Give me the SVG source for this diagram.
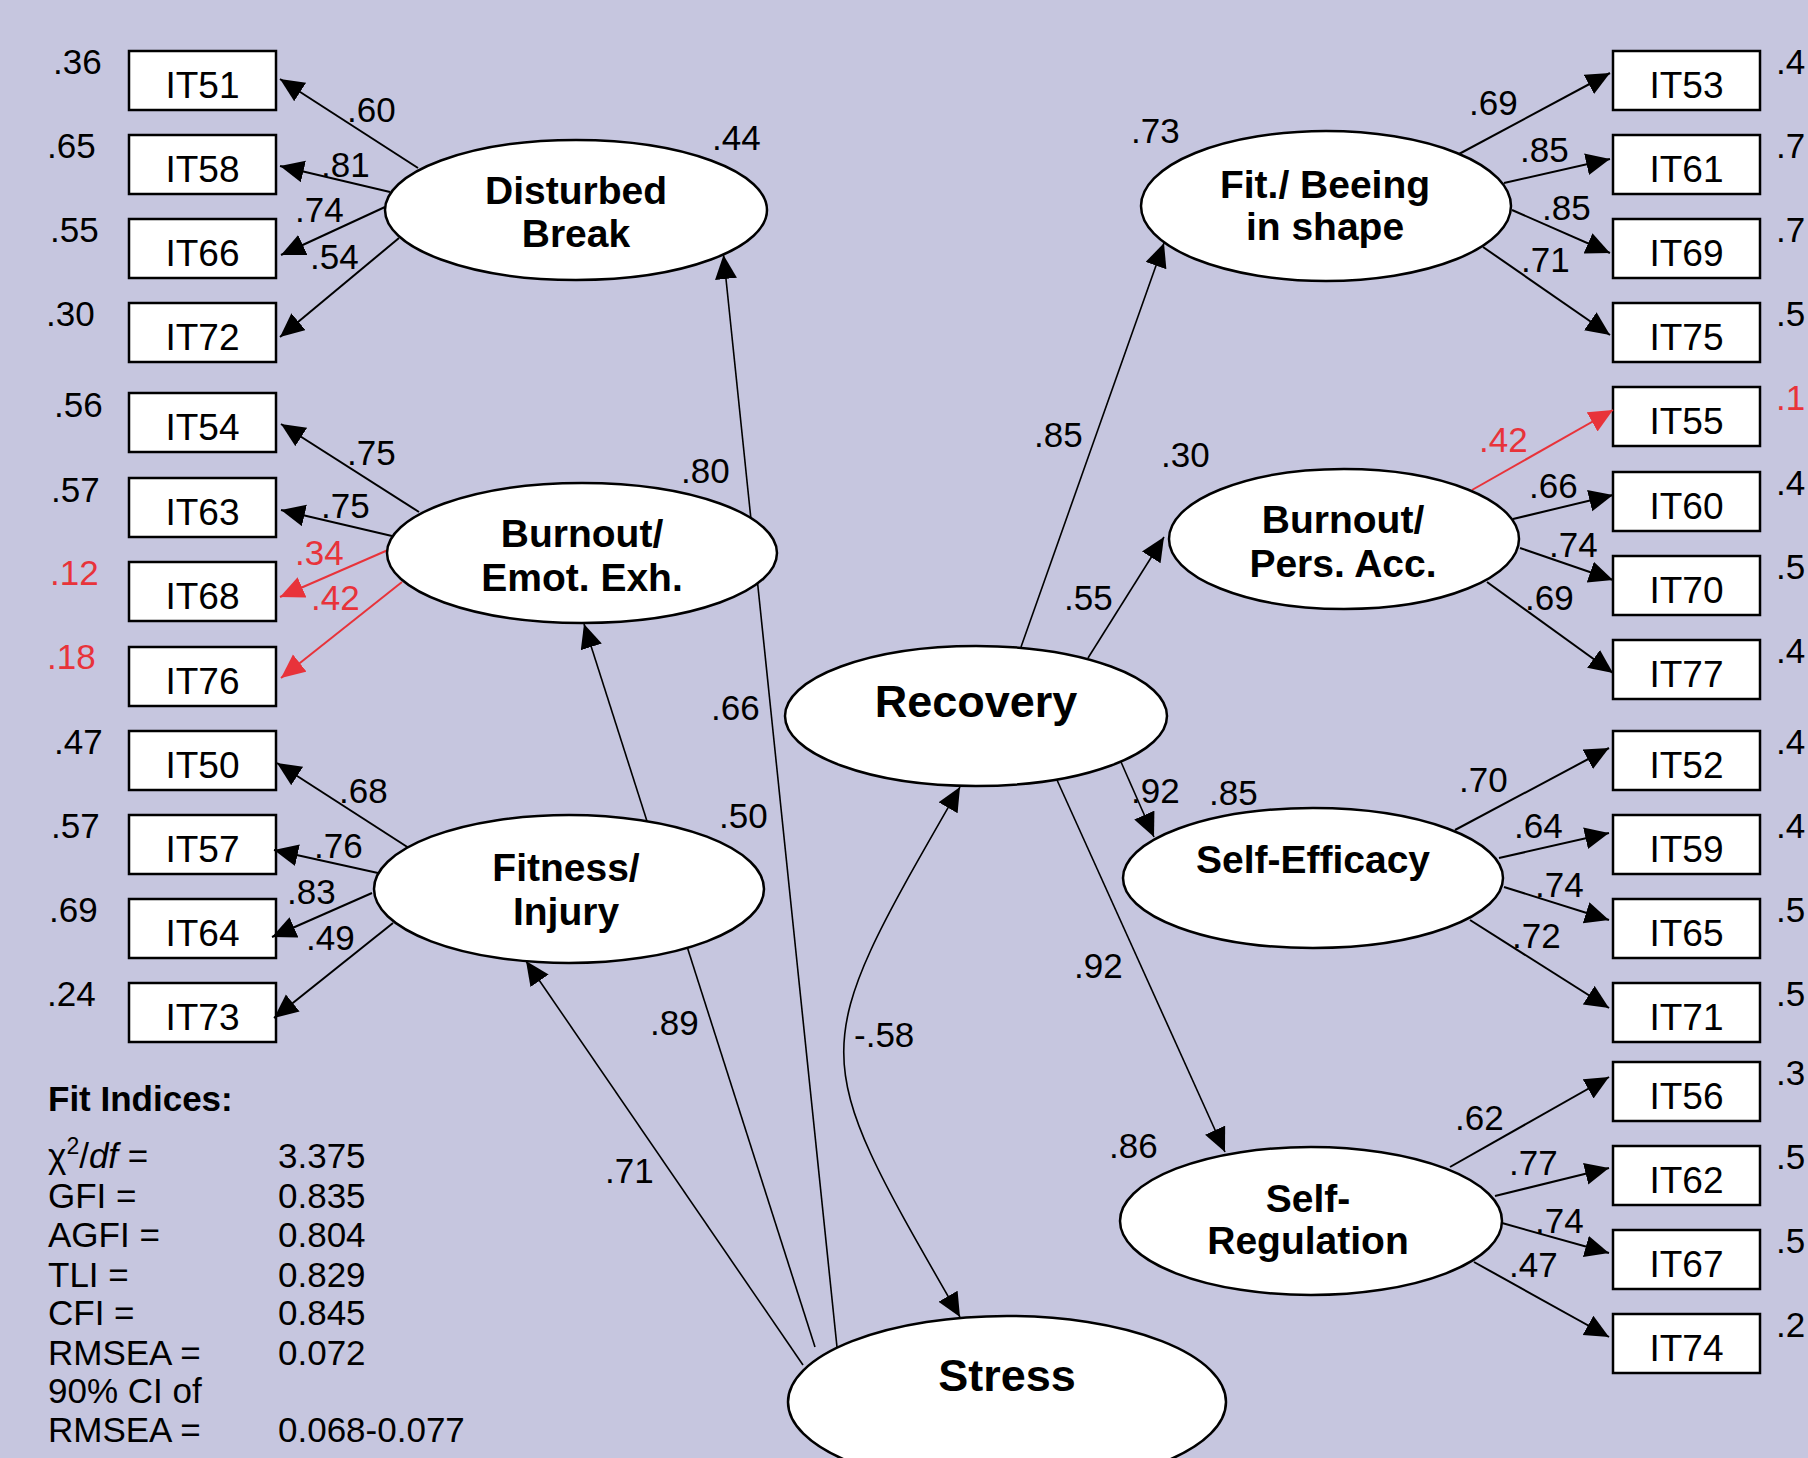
<svg xmlns="http://www.w3.org/2000/svg" width="1808" height="1458" viewBox="0 0 1808 1458">
<style>
text{font-family:"Liberation Sans",Arial,sans-serif;fill:#000}
.box{fill:#fff;stroke:#000;stroke-width:2.5}
.ell{fill:#fff;stroke:#000;stroke-width:2.5}
.bl{font-size:37px;text-anchor:middle}
.num{font-size:35px}
.red{fill:#E8333A}
.t{font-size:39px;font-weight:bold;text-anchor:middle}
.tb{font-size:45px;font-weight:bold;text-anchor:middle}
.ld{stroke:#000;stroke-width:2;fill:none;marker-end:url(#ah)}
.ldr{stroke:#E8333A;stroke-width:2;fill:none;marker-end:url(#ahr)}
.st{stroke:#000;stroke-width:1.6;fill:none;marker-end:url(#ah)}
.fi{font-size:35px}
</style>
<defs>
<marker id="ah" markerUnits="userSpaceOnUse" markerWidth="26" markerHeight="24" refX="24" refY="11" orient="auto-start-reverse"><path d="M0,0 L24,11 L0,22 z" fill="#000"/></marker>
<marker id="ahr" markerUnits="userSpaceOnUse" markerWidth="26" markerHeight="24" refX="24" refY="11" orient="auto"><path d="M0,0 L24,11 L0,22 z" fill="#E8333A"/></marker>
</defs>
<rect x="0" y="0" width="1808" height="1458" fill="#C6C6DF"/>

<!-- indicator boxes -->
<g id="IT51"><rect class="box" x="129" y="51" width="147" height="59"/><text class="bl" x="202.5" y="98">IT51</text></g>
<g id="IT58"><rect class="box" x="129" y="135" width="147" height="59"/><text class="bl" x="202.5" y="182">IT58</text></g>
<g id="IT66"><rect class="box" x="129" y="219" width="147" height="59"/><text class="bl" x="202.5" y="266">IT66</text></g>
<g id="IT72"><rect class="box" x="129" y="303" width="147" height="59"/><text class="bl" x="202.5" y="350">IT72</text></g>
<g id="IT54"><rect class="box" x="129" y="393" width="147" height="59"/><text class="bl" x="202.5" y="440">IT54</text></g>
<g id="IT63"><rect class="box" x="129" y="478" width="147" height="59"/><text class="bl" x="202.5" y="525">IT63</text></g>
<g id="IT68"><rect class="box" x="129" y="562" width="147" height="59"/><text class="bl" x="202.5" y="609">IT68</text></g>
<g id="IT76"><rect class="box" x="129" y="647" width="147" height="59"/><text class="bl" x="202.5" y="694">IT76</text></g>
<g id="IT50"><rect class="box" x="129" y="731" width="147" height="59"/><text class="bl" x="202.5" y="778">IT50</text></g>
<g id="IT57"><rect class="box" x="129" y="815" width="147" height="59"/><text class="bl" x="202.5" y="862">IT57</text></g>
<g id="IT64"><rect class="box" x="129" y="899" width="147" height="59"/><text class="bl" x="202.5" y="946">IT64</text></g>
<g id="IT73"><rect class="box" x="129" y="983" width="147" height="59"/><text class="bl" x="202.5" y="1030">IT73</text></g>

<g id="IT53"><rect class="box" x="1613" y="51" width="147" height="59"/><text class="bl" x="1686.5" y="98">IT53</text></g>
<g id="IT61"><rect class="box" x="1613" y="135" width="147" height="59"/><text class="bl" x="1686.5" y="182">IT61</text></g>
<g id="IT69"><rect class="box" x="1613" y="219" width="147" height="59"/><text class="bl" x="1686.5" y="266">IT69</text></g>
<g id="IT75"><rect class="box" x="1613" y="303" width="147" height="59"/><text class="bl" x="1686.5" y="350">IT75</text></g>
<g id="IT55"><rect class="box" x="1613" y="387" width="147" height="59"/><text class="bl" x="1686.5" y="434">IT55</text></g>
<g id="IT60"><rect class="box" x="1613" y="472" width="147" height="59"/><text class="bl" x="1686.5" y="519">IT60</text></g>
<g id="IT70"><rect class="box" x="1613" y="556" width="147" height="59"/><text class="bl" x="1686.5" y="603">IT70</text></g>
<g id="IT77"><rect class="box" x="1613" y="640" width="147" height="59"/><text class="bl" x="1686.5" y="687">IT77</text></g>
<g id="IT52"><rect class="box" x="1613" y="731" width="147" height="59"/><text class="bl" x="1686.5" y="778">IT52</text></g>
<g id="IT59"><rect class="box" x="1613" y="815" width="147" height="59"/><text class="bl" x="1686.5" y="862">IT59</text></g>
<g id="IT65"><rect class="box" x="1613" y="899" width="147" height="59"/><text class="bl" x="1686.5" y="946">IT65</text></g>
<g id="IT71"><rect class="box" x="1613" y="983" width="147" height="59"/><text class="bl" x="1686.5" y="1030">IT71</text></g>
<g id="IT56"><rect class="box" x="1613" y="1062" width="147" height="59"/><text class="bl" x="1686.5" y="1109">IT56</text></g>
<g id="IT62"><rect class="box" x="1613" y="1146" width="147" height="59"/><text class="bl" x="1686.5" y="1193">IT62</text></g>
<g id="IT67"><rect class="box" x="1613" y="1230" width="147" height="59"/><text class="bl" x="1686.5" y="1277">IT67</text></g>
<g id="IT74"><rect class="box" x="1613" y="1314" width="147" height="59"/><text class="bl" x="1686.5" y="1361">IT74</text></g>

<!-- variance labels -->
<g id="variances">
<text class="num" x="53" y="74">.36</text>
<text class="num" x="47" y="158">.65</text>
<text class="num" x="50" y="242">.55</text>
<text class="num" x="46" y="326">.30</text>
<text class="num" x="54" y="417">.56</text>
<text class="num" x="51" y="502">.57</text>
<text class="num red" x="50" y="585">.12</text>
<text class="num red" x="47" y="669">.18</text>
<text class="num" x="54" y="754">.47</text>
<text class="num" x="51" y="838">.57</text>
<text class="num" x="49" y="922">.69</text>
<text class="num" x="47" y="1006">.24</text>
<text class="num" x="1776" y="74">.4</text>
<text class="num" x="1776" y="158">.7</text>
<text class="num" x="1776" y="242">.7</text>
<text class="num" x="1776" y="326">.5</text>
<text class="num red" x="1776" y="410">.1</text>
<text class="num" x="1776" y="495">.4</text>
<text class="num" x="1776" y="579">.5</text>
<text class="num" x="1776" y="663">.4</text>
<text class="num" x="1776" y="754">.4</text>
<text class="num" x="1776" y="838">.4</text>
<text class="num" x="1776" y="922">.5</text>
<text class="num" x="1776" y="1006">.5</text>
<text class="num" x="1776" y="1085">.3</text>
<text class="num" x="1776" y="1169">.5</text>
<text class="num" x="1776" y="1253">.5</text>
<text class="num" x="1776" y="1337">.2</text>
</g>

<!-- connectors -->
<g id="connectors">
<line class="ld" x1="418" y1="168" x2="280" y2="79"/>
<line class="ld" x1="390" y1="192" x2="280" y2="166"/>
<line class="ld" x1="385" y1="207" x2="281" y2="255"/>
<line class="ld" x1="399" y1="238" x2="280" y2="337"/>
<line class="ld" x1="419" y1="512" x2="281" y2="424"/>
<line class="ld" x1="392" y1="536" x2="281" y2="510"/>
<line class="ldr" x1="388" y1="550" x2="280" y2="597"/>
<line class="ldr" x1="402" y1="582" x2="281" y2="678"/>
<line class="ld" x1="412" y1="850" x2="277" y2="763"/>
<line class="ld" x1="378" y1="873" x2="274" y2="850"/>
<line class="ld" x1="372" y1="893" x2="272" y2="937"/>
<line class="ld" x1="393" y1="923" x2="274" y2="1018"/>

<line class="ld" x1="1459" y1="154" x2="1610" y2="73"/>
<line class="ld" x1="1504" y1="183" x2="1610" y2="159"/>
<line class="ld" x1="1512" y1="210" x2="1610" y2="253"/>
<line class="ld" x1="1483" y1="247" x2="1610" y2="335"/>
<line class="ldr" x1="1472" y1="490" x2="1613" y2="410"/>
<line class="ld" x1="1513" y1="519" x2="1613" y2="495"/>
<line class="ld" x1="1520" y1="548" x2="1613" y2="580"/>
<line class="ld" x1="1487" y1="582" x2="1613" y2="673"/>
<line class="ld" x1="1455" y1="830" x2="1609" y2="748"/>
<line class="ld" x1="1499" y1="858" x2="1609" y2="833"/>
<line class="ld" x1="1504" y1="887" x2="1609" y2="920"/>
<line class="ld" x1="1470" y1="920" x2="1609" y2="1008"/>
<line class="ld" x1="1450" y1="1167" x2="1609" y2="1077"/>
<line class="ld" x1="1495" y1="1196" x2="1609" y2="1168"/>
<line class="ld" x1="1502" y1="1223" x2="1609" y2="1253"/>
<line class="ld" x1="1474" y1="1262" x2="1609" y2="1337"/>

<line class="st" x1="837" y1="1347" x2="723.5" y2="255"/>
<line class="st" x1="815" y1="1347" x2="584" y2="624"/>
<line class="st" x1="803" y1="1365" x2="526" y2="961"/>
<line class="st" x1="1021" y1="647" x2="1164" y2="243"/>
<line class="st" x1="1088" y1="658" x2="1164" y2="537"/>
<line class="st" x1="1121" y1="762" x2="1154" y2="837"/>
<line class="st" x1="1057" y1="780" x2="1225" y2="1152"/>
<path class="st" d="M960,787 C805,1057 805,1047 960,1317" marker-start="url(#ah)"/>
</g>

<!-- path labels -->
<g id="labels">
<text class="num" x="347" y="122">.60</text>
<text class="num" x="321" y="177">.81</text>
<text class="num" x="295" y="222">.74</text>
<text class="num" x="310" y="269">.54</text>
<text class="num" x="712" y="150">.44</text>
<text class="num" x="347" y="465">.75</text>
<text class="num" x="321" y="518">.75</text>
<text class="num red" x="295" y="565">.34</text>
<text class="num red" x="311" y="610">.42</text>
<text class="num" x="681" y="483">.80</text>
<text class="num" x="711" y="720">.66</text>
<text class="num" x="339" y="803">.68</text>
<text class="num" x="314" y="858">.76</text>
<text class="num" x="287" y="904">.83</text>
<text class="num" x="306" y="950">.49</text>
<text class="num" x="719" y="828">.50</text>
<text class="num" x="650" y="1035">.89</text>
<text class="num" x="605" y="1183">.71</text>
<text class="num" x="854" y="1047">-.58</text>
<text class="num" x="1034" y="447">.85</text>
<text class="num" x="1131" y="143">.73</text>
<text class="num" x="1161" y="467">.30</text>
<text class="num" x="1064" y="610">.55</text>
<text class="num" x="1131" y="803">.92</text>
<text class="num" x="1209" y="805">.85</text>
<text class="num" x="1074" y="978">.92</text>
<text class="num" x="1109" y="1158">.86</text>
<text class="num" x="1469" y="115">.69</text>
<text class="num" x="1520" y="162">.85</text>
<text class="num" x="1542" y="220">.85</text>
<text class="num" x="1521" y="272">.71</text>
<text class="num red" x="1479" y="452">.42</text>
<text class="num" x="1529" y="498">.66</text>
<text class="num" x="1549" y="557">.74</text>
<text class="num" x="1525" y="610">.69</text>
<text class="num" x="1459" y="792">.70</text>
<text class="num" x="1514" y="838">.64</text>
<text class="num" x="1535" y="897">.74</text>
<text class="num" x="1512" y="948">.72</text>
<text class="num" x="1455" y="1130">.62</text>
<text class="num" x="1509" y="1175">.77</text>
<text class="num" x="1535" y="1233">.74</text>
<text class="num" x="1509" y="1277">.47</text>
</g>

<!-- latent nodes -->
<g id="DisturbedBreak"><ellipse class="ell" cx="576" cy="210" rx="191" ry="70"/><text class="t" x="576" y="204">Disturbed</text><text class="t" x="576" y="247">Break</text></g>
<g id="BurnoutEmot"><ellipse class="ell" cx="582" cy="553" rx="195" ry="70"/><text class="t" x="582" y="547">Burnout/</text><text class="t" x="582" y="591">Emot. Exh.</text></g>
<g id="FitnessInjury"><ellipse class="ell" cx="569" cy="889" rx="195" ry="74"/><text class="t" x="566" y="881">Fitness/</text><text class="t" x="566" y="925">Injury</text></g>
<g id="Recovery"><ellipse class="ell" cx="976" cy="716" rx="191" ry="70"/><text class="tb" x="976" y="717">Recovery</text></g>
<g id="Stress"><ellipse class="ell" cx="1007" cy="1402" rx="219" ry="86"/><text class="tb" x="1007" y="1391">Stress</text></g>
<g id="FitBeeing"><ellipse class="ell" cx="1326" cy="206" rx="185" ry="75"/><text class="t" x="1325" y="198">Fit./ Beeing</text><text class="t" x="1325" y="240">in shape</text></g>
<g id="BurnoutPers"><ellipse class="ell" cx="1344" cy="539" rx="175" ry="70"/><text class="t" x="1343" y="533">Burnout/</text><text class="t" x="1343" y="577">Pers. Acc.</text></g>
<g id="SelfEfficacy"><ellipse class="ell" cx="1313" cy="878" rx="190" ry="70"/><text class="t" x="1313" y="873">Self-Efficacy</text></g>
<g id="SelfRegulation"><ellipse class="ell" cx="1311" cy="1221" rx="191" ry="74"/><text class="t" x="1308" y="1212">Self-</text><text class="t" x="1308" y="1254">Regulation</text></g>

<!-- fit indices -->
<g id="fit">
<text x="48" y="1111" font-size="35" font-weight="bold">Fit Indices:</text>
<text class="fi" x="48" y="1168">χ<tspan font-size="23" dy="-14">2</tspan><tspan dy="14">/</tspan><tspan font-style="italic">df</tspan> =</text>
<text class="fi" x="48" y="1208">GFI =</text>
<text class="fi" x="48" y="1247">AGFI =</text>
<text class="fi" x="48" y="1287">TLI =</text>
<text class="fi" x="48" y="1325">CFI =</text>
<text class="fi" x="48" y="1365">RMSEA =</text>
<text class="fi" x="48" y="1403">90% CI of</text>
<text class="fi" x="48" y="1442">RMSEA =</text>
<text class="fi" x="278" y="1168">3.375</text>
<text class="fi" x="278" y="1208">0.835</text>
<text class="fi" x="278" y="1247">0.804</text>
<text class="fi" x="278" y="1287">0.829</text>
<text class="fi" x="278" y="1325">0.845</text>
<text class="fi" x="278" y="1365">0.072</text>
<text class="fi" x="278" y="1442">0.068-0.077</text>
</g>
</svg>
